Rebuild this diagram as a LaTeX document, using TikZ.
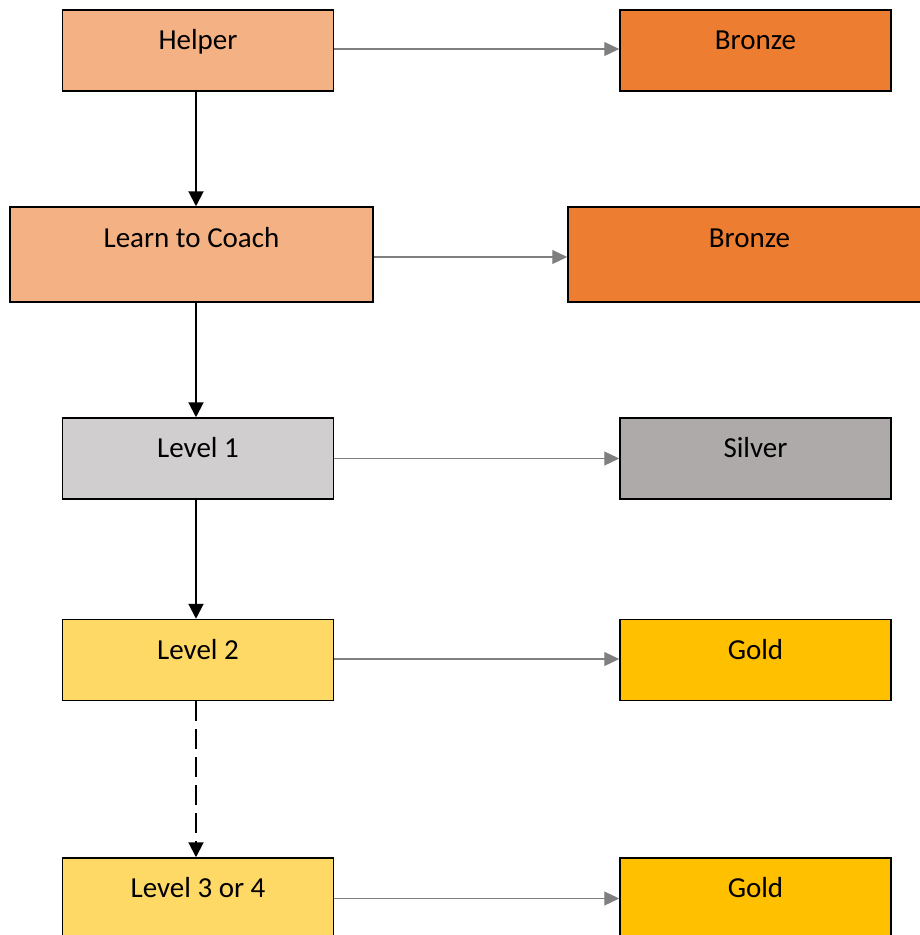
\documentclass[tikz,border=0pt]{standalone}
\usepackage{fontspec}
\setmainfont{Carlito}
\usetikzlibrary{arrows.meta}
\definecolor{ltorange}{HTML}{F4B183}
\definecolor{bronzec}{HTML}{ED7D31}
\definecolor{ltgray}{HTML}{D0CECE}
\definecolor{silverc}{HTML}{AEAAAA}
\definecolor{ltgold}{HTML}{FFD966}
\definecolor{goldc}{HTML}{FFC000}
\definecolor{arrgray}{HTML}{7F7F7F}
\tikzset{
  box/.style={draw=black, line width=1.5pt, rectangle, inner sep=0pt},
  smallbox/.style={box, minimum width=271pt, minimum height=81pt},
  widebox/.style={box, minimum width=363pt, minimum height=95pt},
  lbl/.style={anchor=base, inner sep=0pt, font=\fontsize{29}{35}\selectfont},
  varrow/.style={line width=2pt, black, -{Triangle[length=15pt,width=15pt]}},
  harrow/.style={line width=1.2pt, arrgray, -{Triangle[length=15pt,width=14pt]}},
}
\begin{document}
\begin{tikzpicture}[x=1pt,y=-1pt]
\useasboundingbox (0,0) rectangle (920,935);
\clip (0,0) rectangle (920,935);
% left column
\node[smallbox, fill=ltorange] (helper) at (198,50.5) {};
\node[widebox, fill=ltorange] (ltc) at (191.5,254.5) {};
\node[smallbox, fill=ltgray] (l1) at (198,458.5) {};
\node[smallbox, fill=ltgold] (l2) at (198,660) {};
\node[smallbox, fill=ltgold] (l3) at (198,898.5) {};
% right column
\node[smallbox, fill=bronzec] (b1) at (755.5,50.5) {};
\node[widebox, fill=bronzec] (b2) at (749.5,254.5) {};
\node[smallbox, fill=silverc] (s1) at (755.5,458.5) {};
\node[smallbox, fill=goldc] (g1) at (755.5,660) {};
\node[smallbox, fill=goldc] (g2) at (755.5,898.5) {};
% labels
\node[lbl] (thelper) at (198,49) {Helper};
\node[lbl] (tltc) at (191.5,247) {Learn to Coach};
\node[lbl] (tl1) at (198,457) {Level 1};
\node[lbl] (tl2) at (198,659) {Level 2};
\node[lbl] (tl3) at (198,897) {Level 3 or 4};
\node[lbl] (tb1) at (755.5,49) {Bronze};
\node[lbl] (tb2) at (749.5,247) {Bronze};
\node[lbl] (ts1) at (755.5,457) {Silver};
\node[lbl] (tg1) at (755.5,659) {Gold};
\node[lbl] (tg2) at (755.5,897) {Gold};
% vertical arrows
\draw[varrow] ([xshift=-2pt]helper.south) coordinate (v1) -- (v1 |- ltc.north);
\draw[varrow] (v1 |- ltc.south) -- (v1 |- l1.north);
\draw[varrow] (v1 |- l1.south) -- (v1 |- l2.north);
\draw[varrow, dash pattern=on 20pt off 8pt] (v1 |- l2.south) -- (v1 |- l3.north);
% horizontal arrows
\draw[harrow] ([yshift=1.5pt]helper.east) coordinate (h1) -- (h1 -| b1.west);
\draw[harrow] ([yshift=-2.5pt]ltc.east) coordinate (h2) -- (h2 -| b2.west);
\draw[harrow] (l1.east) coordinate (h3) -- (h3 -| s1.west);
\draw[harrow] ([yshift=1pt]l2.east) coordinate (h4) -- (h4 -| g1.west);
\draw[harrow] (l3.east) coordinate (h5) -- (h5 -| g2.west);
\end{tikzpicture}
\end{document}
